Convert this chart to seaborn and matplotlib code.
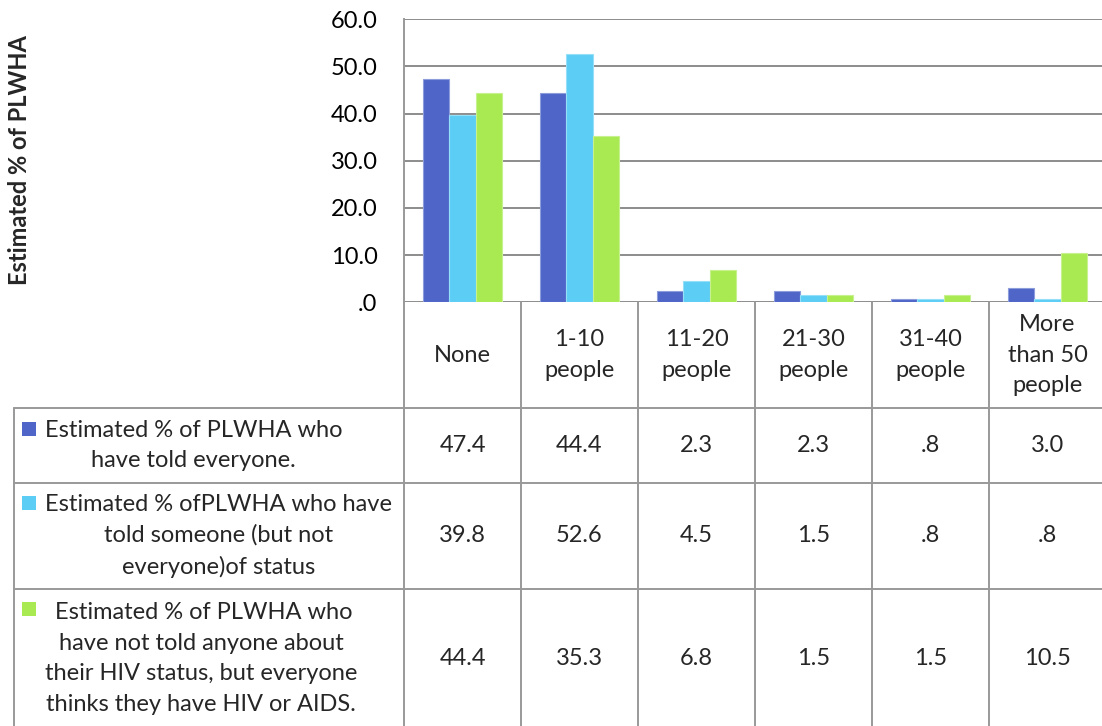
import numpy as np
import pandas as pd
import matplotlib
matplotlib.use("Agg")
import matplotlib.pyplot as plt
import matplotlib.transforms as mtransforms
from matplotlib.ticker import FuncFormatter
import seaborn as sns

# ---- data ---------------------------------------------------------------
groups = ["None", "1-10 people", "11-20 people", "21-30 people",
          "31-40 people", "More than 50 people"]
group_labels = ["None", "1-10\npeople", "11-20\npeople", "21-30\npeople",
                "31-40\npeople", "More\nthan 50\npeople"]

told_everyone = [47.4, 44.4, 2.3, 2.3, 0.8, 3.0]
told_someone = [39.8, 52.6, 4.5, 1.5, 0.8, 0.8]
told_no_one = [44.4, 35.3, 6.8, 1.5, 1.5, 10.5]

series_names = [
    "Estimated % of PLWHA who\nhave told everyone.",
    "Estimated % ofPLWHA who have\ntold someone (but not\neveryone)of status",
    " Estimated % of PLWHA who\nhave not told anyone about\ntheir HIV status, but everyone\nthinks they have HIV or AIDS.",
]
series_values = [told_everyone, told_someone, told_no_one]
series_colors = ["#4F66C8", "#5CCDF4", "#A9EA52"]

y_ticks = [0, 10, 20, 30, 40, 50, 60]
y_title = "Estimated % of PLWHA"

# ---- styling ------------------------------------------------------------
sns.set_theme(style="white")
plt.rcParams["font.family"] = ["Lato", "DejaVu Sans"]
FS = 17
LS = 1.55
LINE_PX = 33
GRID = "#8C8C8C"
TABLE = "#999999"

W, H = 1102, 726
fig = plt.figure(figsize=(W / 100, H / 100), dpi=100)
fig.patch.set_facecolor("white")

# plot area
left_px, right_px, top_px, base_px = 404, 1106, 19.3, 302.3
ax = fig.add_axes([left_px / W, 1 - base_px / H,
                   (right_px - left_px) / W, (base_px - top_px) / H])

df = pd.DataFrame({
    "group": groups * len(series_names),
    "series": np.repeat(series_names, len(groups)),
    "value": np.concatenate(series_values),
})
sns.barplot(data=df, x="group", y="value", hue="series", order=groups,
            hue_order=series_names, palette=series_colors, width=0.675,
            gap=0, ax=ax, legend=False, saturation=1, errorbar=None,
            zorder=3)

for p in ax.patches:
    fc = np.array(p.get_facecolor()[:3])
    p.set_edgecolor(tuple(fc + (1 - fc) * 0.35))
    p.set_linewidth(0.8)

ax.set_xlim(-0.5, len(groups) - 0.5)
ax.set_ylim(0, 60)
ax.set_yticks(y_ticks)
ax.yaxis.set_major_formatter(FuncFormatter(
    lambda v, _: f"{v:.1f}".lstrip("0") if v < 1 else f"{v:.1f}"))
ax.tick_params(axis="y", length=0, pad=19, labelsize=FS, labelcolor="black")
ax.tick_params(axis="x", length=0, labelbottom=False)
ax.set_xlabel("")
ax.set_ylabel("")
ax.grid(axis="y", color=GRID, linewidth=1.4, zorder=0)
ax.grid(axis="x", visible=False)
for s in ["top", "right", "bottom"]:
    ax.spines[s].set_visible(False)
ax.spines["left"].set_color(TABLE)
ax.spines["left"].set_linewidth(1.4)
ax.set_facecolor("none")

fig.text(20 / W, 1 - 160.5 / H, y_title, rotation=90, ha="center",
         va="center", fontsize=FS, fontweight="bold")

# ---- data table ---------------------------------------------------------
tab = fig.add_axes([0, 0, 1, 1])
tab.set_xlim(0, W)
tab.set_ylim(H, 0)
tab.axis("off")
tab.patch.set_visible(False)
blend = mtransforms.blended_transform_factory(ax.transData, tab.transData)

row_edges = [base_px, 408, 483, 589, 728]
table_left = 14
lkw = dict(color=TABLE, linewidth=1.4, clip_on=False)

# horizontal rules
for y in row_edges[1:4]:
    tab.plot([table_left, W + 10], [y, y], **lkw)
# left edge of the series-name column
tab.plot([table_left, table_left], [row_edges[1], row_edges[-1]], **lkw)
# column rules under each category
for k in range(len(groups) + 1):
    tab.plot([k - 0.5, k - 0.5], [base_px, row_edges[-1]],
             transform=blend, **lkw)

# header cells
hdr_y = (row_edges[0] + row_edges[1]) / 2
for i, lab in enumerate(group_labels):
    tab.text(i, hdr_y, lab, transform=blend, ha="center", va="center",
             fontsize=FS, linespacing=LS)

# value cells and series names with legend keys
fmt = lambda v: f"{v:.1f}".lstrip("0") if v < 1 else f"{v:.1f}"
for r, (name, vals, col) in enumerate(zip(series_names, series_values,
                                          series_colors)):
    y0, y1 = row_edges[r + 1], row_edges[r + 2]
    yc = (y0 + y1) / 2
    for i, v in enumerate(vals):
        tab.text(i, yc, fmt(v), transform=blend, ha="center", va="center",
                 fontsize=FS)
    tab.text(45, yc, name, ha="left", va="center", fontsize=FS,
             multialignment="center", linespacing=LS)
    n_lines = name.count("\n") + 1
    first_line_y = yc - (n_lines - 1) * LINE_PX / 2
    tab.add_patch(plt.Rectangle((22, first_line_y - 7), 14, 14,
                                facecolor=col, edgecolor="none"))

fig.savefig("out.png", dpi=100, facecolor="white")
